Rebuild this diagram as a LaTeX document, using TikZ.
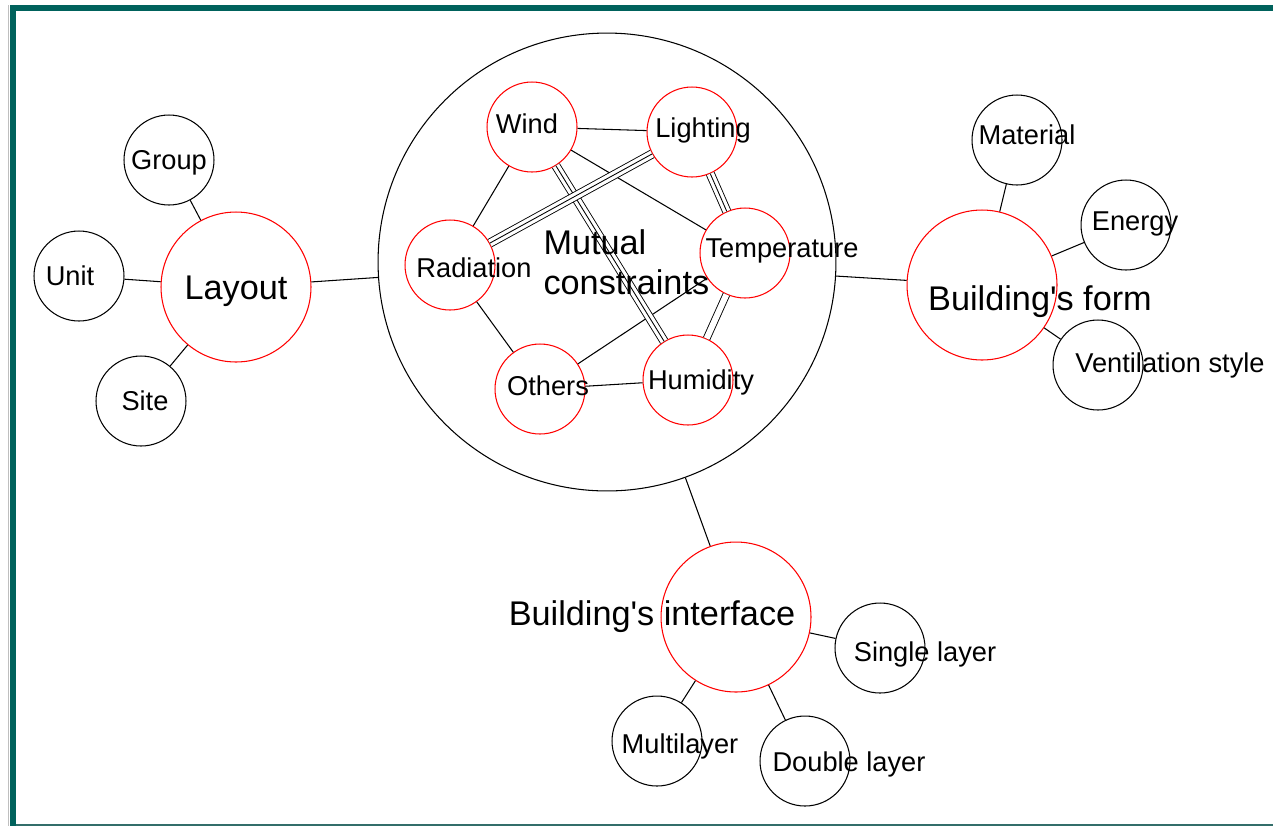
\documentclass[tikz,border=0pt]{standalone}
\usepackage{fontspec}
\setmainfont{Liberation Sans}
\definecolor{frameteal}{RGB}{0,98,92}

\tikzset{
  leaf/.style={circle, draw, minimum size=1.8cm, inner sep=0pt},
  topic/.style={leaf, draw=red},
  hub/.style={leaf, draw=red, minimum size=3cm},
  lbl/.style={inner sep=0pt, text height=11pt, text depth=0pt, font=\fontsize{15.5}{18}\selectfont},
  biglbl/.style={inner sep=0pt, text height=14pt, text depth=0pt, font=\fontsize{19.5}{23}\selectfont},
  dbl/.style={double, double distance=3.4pt, line width=0.5pt}
}

\begin{document}
\begin{tikzpicture}[x=0.02cm, y=-0.02cm, line width=0.6pt]
  \useasboundingbox (0,0) rectangle (1273,826);
  % frame
  \fill[frameteal] (10,5) rectangle (1273,11);
  \fill[frameteal] (10,5) rectangle (16,826);
  \draw[gray!50, line width=0.8pt] (8.5,5) -- (8.5,826);
  \draw[frameteal!60!gray, line width=0.8pt] (16,825) -- (1273,825);

  % layout
  \node[hub] (layout) at (236,287) {};
  \node[leaf] (group) at (169,160) {};
  \node[leaf] (unit) at (79,276) {};
  \node[leaf] (site) at (141,401) {};

  % mutual constraints
  \node[circle, draw, minimum size=9.16cm, inner sep=0pt] (mutual) at (607,262) {};
  \node[topic] (wind) at (532,127) {};
  \node[topic] (light) at (692,132) {};
  \node[topic] (temp) at (745,253) {};
  \node[topic] (rad) at (450,265) {};
  \node[topic] (others) at (540,389) {};
  \node[topic] (humid) at (688,380) {};

  % building's form
  \node[hub] (form) at (982,285) {};
  \node[leaf] (mat) at (1017,140) {};
  \node[leaf] (energy) at (1126,225) {};
  \node[leaf] (vent) at (1098,365) {};

  % building's interface
  \node[hub] (iface) at (736,617) {};
  \node[leaf] (single) at (880,648) {};
  \node[leaf] (multi) at (657,741) {};
  \node[leaf] (double) at (805,761) {};

  % links
  \draw (layout) -- (group);
  \draw (layout) -- (unit);
  \draw (layout) -- (site);
  \draw (layout) -- (mutual);
  \draw (mutual) -- (form);
  \draw (mutual) -- (iface);
  \draw (form) -- (mat);
  \draw (form) -- (energy);
  \draw (form) -- (vent);
  \draw (iface) -- (single);
  \draw (iface) -- (multi);
  \draw (iface) -- (double);

  \draw (wind) -- (light);
  \draw (wind) -- (rad);
  \draw (wind) -- (temp);
  \draw (rad) -- (others);
  \draw (others) -- (temp);
  \draw (others) -- (humid);
  \draw[dbl] (temp) -- (humid);
  \foreach \a/\b in {wind/humid, rad/light, light/temp} {
    \draw[dbl, double distance=4.2pt] (\a) -- (\b);
    \draw[line width=0.5pt] (\a) -- (\b);
  }

  % labels
  \node[lbl] (group-t) at (169,160) {Group};
  \node[lbl] (unit-t) at (70,276) {Unit};
  \node[lbl] (site-t) at (145,401) {Site};
  \node[biglbl] (layout-t) at (236,287) {Layout};
  \node[lbl] (wind-t) at (527,124) {Wind};
  \node[lbl] (light-t) at (703,128) {Lighting};
  \node[lbl] (temp-t) at (782,248) {Temperature};
  \node[lbl] (rad-t) at (474,268) {Radiation};
  \node[lbl] (others-t) at (548,386) {Others};
  \node[lbl] (humid-t) at (701,380) {Humidity};
  \node[inner sep=0pt, anchor=west, align=left, font=\fontsize{19.5}{22.7}\selectfont] (mutual-t) at (543,262) {Mutual\\constraints};
  \node[biglbl] (form-t) at (1040,298) {Building\textquotesingle s form};
  \node[lbl] (mat-t) at (1027,135) {Material};
  \node[lbl] (energy-t) at (1135,221) {Energy};
  \node[lbl] (vent-t) at (1170,363) {Ventilation style};
  \node[biglbl] (iface-t) at (652,613) {Building\textquotesingle s interface};
  \node[lbl] (single-t) at (925,652) {Single layer};
  \node[lbl] (multi-t) at (680,744) {Multilayer};
  \node[lbl] (double-t) at (849,762) {Double layer};
\end{tikzpicture}
\end{document}
